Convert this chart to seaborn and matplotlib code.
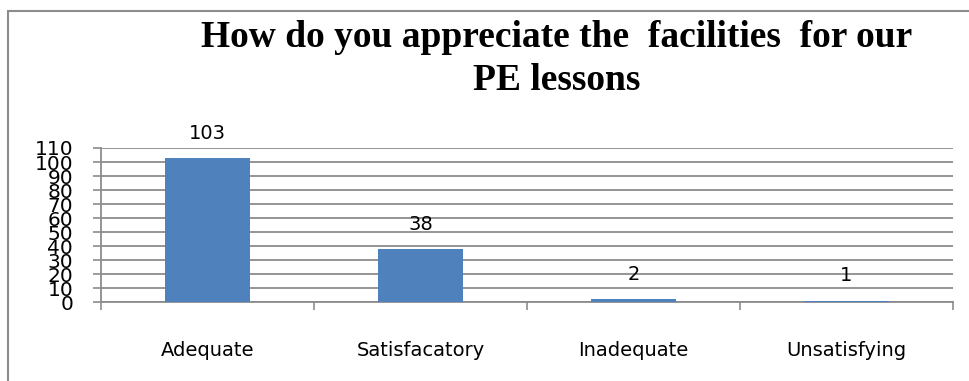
import matplotlib
matplotlib.use("Agg")
import matplotlib.pyplot as plt
from matplotlib.patches import Rectangle
from matplotlib.ticker import FixedLocator
import seaborn as sns
import pandas as pd

categories = ["Adequate", "Satisfacatory", "Inadequate", "Unsatisfying"]
counts = [103, 38, 2, 1]
y_ticks = list(range(0, 111, 10))
title = "How do you appreciate the  facilities  for our\nPE lessons"

sns.set_style("white")
plt.rcParams["font.family"] = ["DejaVu Sans"]
plt.rcParams["text.color"] = "black"
plt.rcParams["xtick.color"] = "black"
plt.rcParams["ytick.color"] = "black"

W, H = 969, 381
fig = plt.figure(figsize=(W / 100, H / 100), dpi=100)
ax = fig.add_axes([101 / W, 79 / H, (953 - 101) / W, (302 - 148) / H])

df = pd.DataFrame({"category": categories, "count": counts})
sns.barplot(data=df, x="category", y="count", color="#4F81BD", width=0.4,
            saturation=1, ax=ax, edgecolor="none", zorder=3)

grid_c = "#8c8c8c"
ax.set_ylim(0, 110)
ax.set_xlim(-0.5, len(categories) - 0.5)
ax.yaxis.set_major_locator(FixedLocator(y_ticks))
ax.set_yticklabels([str(v) for v in y_ticks], fontsize=14.5, color="black")
ax.yaxis.grid(True, color=grid_c, linewidth=1.3)
ax.set_axisbelow(True)
ax.tick_params(axis="y", direction="out", length=6, width=1.2, color=grid_c,
               pad=14, left=True, labelcolor="black")

ax.set_xticks(range(len(categories)))
ax.set_xticklabels(categories, fontsize=14, color="black")
ax.tick_params(axis="x", which="major", length=0, pad=28, labelcolor="black")
ax.xaxis.set_minor_locator(FixedLocator([i - 0.5 for i in range(len(categories) + 1)]))
ax.tick_params(axis="x", which="minor", direction="out", length=6, width=1.2,
               color=grid_c, bottom=True)
ax.set_xlabel("")
ax.set_ylabel("")

for s in ["top", "right"]:
    ax.spines[s].set_visible(False)
for s in ["left", "bottom"]:
    ax.spines[s].set_color(grid_c)
    ax.spines[s].set_linewidth(1.3)

for i, v in enumerate(counts):
    ax.annotate(str(v), (i, v), xytext=(0, 11), textcoords="offset points",
                ha="center", va="bottom", fontsize=14, color="black")

fig.text(557 / W, 1 - 20 / H, title, ha="center", va="top",
         fontsize=27, fontweight="bold", family="Liberation Serif",
         linespacing=1.3, multialignment="center", color="black")

fig.add_artist(Rectangle((8 / W, -0.2), 1.5, (1 - 11 / H) + 0.2,
                         transform=fig.transFigure, fill=False,
                         edgecolor="#8c8c8c", linewidth=1.5, clip_on=False))

fig.savefig("out.png", dpi=100)
